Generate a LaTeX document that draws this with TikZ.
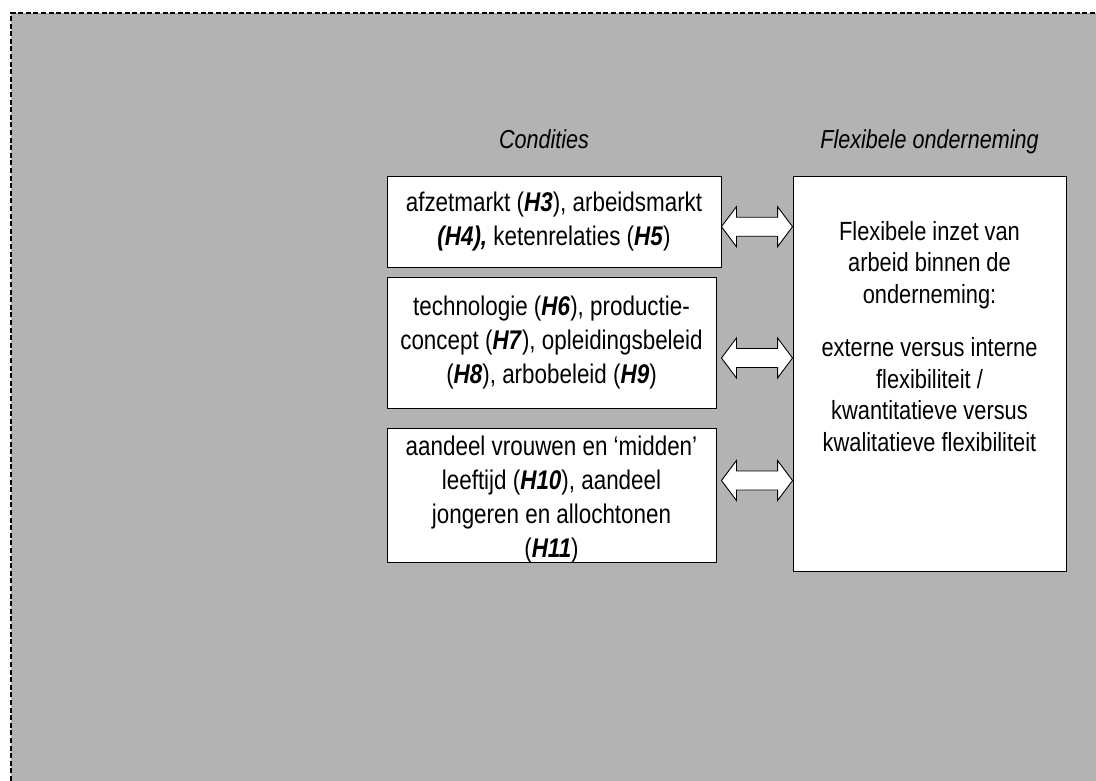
\documentclass[tikz,border=0pt]{standalone}
\usepackage{fontspec}
\setmainfont{Liberation Sans}[FakeStretch=0.83]
\usetikzlibrary{calc}
\definecolor{panelgray}{RGB}{179,179,179}

% bold italic hypothesis labels
\newcommand\hyp[1]{\textbf{\textit{#1}}}

% two-headed block arrow between a condition box and the firm box
% #1 left node, #2 right node, #3 extra shift of left tip, #4 height coordinate
\newcommand\linkarrow[4]{%
  \coordinate (la) at ([xshift=#3]#1.east |- #4);
  \coordinate (ra) at (#2.west |- #4);
  \draw[blockarrow] (la) -- ++(15,-20) -- ++(0,10.5)
    -- ($(ra)+(-15,-9.5)$) -- ++(0,-10.5) -- (ra)
    -- ++(-15,20) -- ++(0,-10.5) -- ($(la)+(15,9.5)$)
    -- ++(0,10.5) -- cycle;}

\tikzset{
  condbox/.style={draw=black, line width=0.9pt, fill=white, inner sep=0pt,
    align=center, font=\fontsize{27}{33.7}\selectfont},
  condtext/.style={inner sep=0pt, align=center,
    font=\fontsize{27}{33.7}\selectfont},
  firmbox/.style={draw=black, line width=0.9pt, fill=white, inner sep=0pt},
  firmtext/.style={inner sep=0pt, align=center,
    font=\fontsize{26.3}{31.5}\selectfont},
  heading/.style={inner sep=0pt, anchor=base,
    font=\fontsize{26}{30}\selectfont\itshape},
  blockarrow/.style={draw=black, line width=0.9pt, fill=white,
    line join=miter},
  border/.style={draw=black, line width=1.3pt, dash pattern=on 5pt off 2.6pt}
}

\begin{document}
\begin{tikzpicture}[x=1pt, y=-1pt]
  \useasboundingbox (0,0) rectangle (1096,780);
  \clip (0,0) rectangle (1096,780);

  % grey panel with dashed frame
  \fill[panelgray] (11,13) rectangle (1110,800);
  \draw[border] (1110,13) -- (11,13) -- (11,800);

  % column headings
  \node[heading] (hcond) at (544,148) {Condities};
  \node[heading] (hfirm) at (929.5,148) {Flexibele onderneming};

  % condition boxes
  \node[condbox, minimum width=334, minimum height=91] (b1) at (554,221.5)
    {afzetmarkt (\hyp{H3}), arbeidsmarkt\\\hyp{(H4),} ketenrelaties (\hyp{H5})};
  \node[condbox, minimum width=329, minimum height=131] (b2) at (551.5,342.5)
    {technologie (\hyp{H6}), productie-\\concept (\hyp{H7}), opleidingsbeleid\\(\hyp{H8}), arbobeleid (\hyp{H9})};
  \node[condbox, minimum width=329, minimum height=134] (b3) at (551.5,495) {};
  \node[condtext] (b3t) at (551.5,499.5)
    {aandeel vrouwen en ‘midden’\\leeftijd (\hyp{H10}), aandeel\\jongeren en allochtonen\\(\hyp{H11})};

  % firm box
  \node[firmbox, minimum width=273, minimum height=395] (rb) at (929.5,373.5) {};
  \node[firmtext, anchor=north] (rt) at (929.5,221)
    {Flexibele inzet van\\arbeid binnen de\\onderneming:\\[21.8pt]externe versus interne\\flexibiliteit /\\kwantitatieve versus\\kwalitatieve flexibiliteit};

  % arrow heights
  \coordinate (y1) at (0,226.7);
  \coordinate (y2) at (0,358);
  \coordinate (y3) at (0,480.5);

  \linkarrow{b1}{rb}{0}{y1}
  \linkarrow{b2}{rb}{5}{y2}
  \linkarrow{b3}{rb}{5}{y3}
\end{tikzpicture}
\end{document}
